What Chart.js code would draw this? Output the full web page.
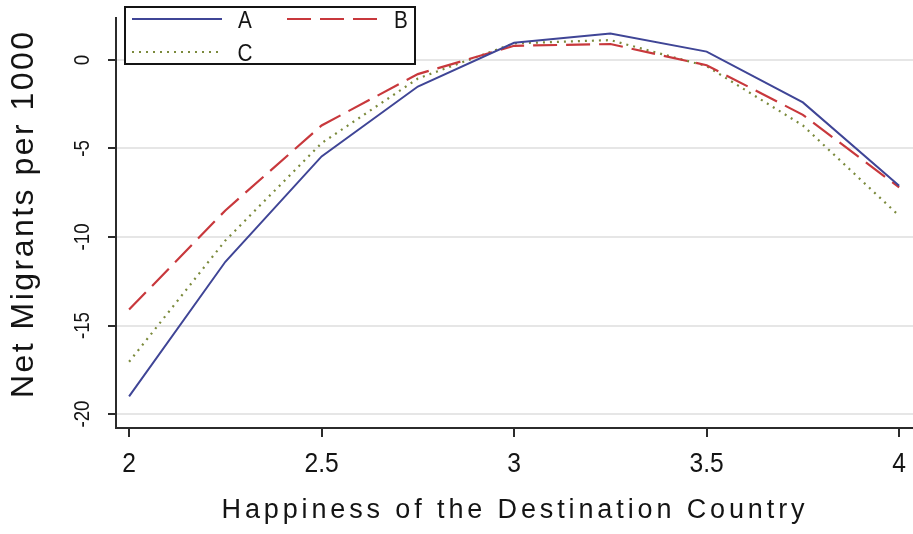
<!DOCTYPE html>
<html><head><meta charset="utf-8">
<script src="https://cdn.jsdelivr.net/npm/chart.js@4.4.0/dist/chart.umd.min.js"></script>
<style>html,body{margin:0;padding:0;background:#fff}#wrap{width:913px;height:534px;position:relative}</style>
</head><body><div id="wrap"><canvas id="c"></canvas></div>
<script>
const happiness = [2, 2.25, 2.5, 2.75, 3, 3.25, 3.5, 3.75, 4];
const seriesA = [-19.0, -11.4, -5.45, -1.5, 0.97, 1.5, 0.47, -2.4, -7.1];
const seriesB = [-14.1, -8.5, -3.7, -0.8, 0.8, 0.9, -0.3, -3.1, -7.2];
const seriesC = [-17.05, -10.2, -4.7, -1.05, 0.94, 1.12, -0.35, -3.7, -8.8];
const xTicks = [2, 2.5, 3, 3.5, 4];
const yTicks = [-20, -15, -10, -5, 0];
const seriesNames = ['A', 'B', 'C'];
const xTitle = 'Happiness of the Destination Country';
const yTitle = 'Net Migrants per 1000';

const SANS = '"Liberation Sans", Arial, sans-serif';
const AXIS = '#2b2b2b';
const INK = '#141414';

function toPts(vals) { return happiness.map((x, i) => ({ x: x, y: vals[i] })); }

// draw text centred at (cx, baseline y); optional rotation, horizontal squeeze and width fit
function drawText(ctx, text, font, sx, cx, y, rotate, target) {
  ctx.save();
  ctx.font = font;
  ctx.letterSpacing = '0px';
  const w = ctx.measureText(text).width;
  let total = w;
  if (target) {
    const sp = (target / sx - w) / (text.length - 1);
    ctx.letterSpacing = sp + 'px';
    total = w + sp * (text.length - 1);
  }
  ctx.textBaseline = 'alphabetic';
  ctx.textAlign = 'left';
  ctx.fillStyle = INK;
  if (rotate) {
    ctx.translate(y, cx);
    ctx.rotate(-Math.PI / 2);
  } else {
    ctx.translate(cx, y);
  }
  ctx.scale(sx, 1);
  ctx.fillText(text, -total / 2, 0);
  ctx.restore();
}

const textPlugin = {
  id: 'textPlugin',
  afterDraw(chart) {
    const ctx = chart.ctx;
    const ys = chart.scales.y;
    const xs = chart.scales.x;
    yTicks.forEach(v => drawText(ctx, String(v), '22px ' + SANS, 0.85, ys.getPixelForValue(v), 89, true));
    xTicks.forEach(v => drawText(ctx, String(v), '28px ' + SANS, 0.88, xs.getPixelForValue(v), 472, false));
    drawText(ctx, xTitle, '27px ' + SANS, 1, 513, 518, false, 583);
    drawText(ctx, yTitle, '32px ' + SANS, 1, 215, 33, true, 366);
    // legend
    const ds = chart.data.datasets;
    ctx.save();
    ctx.fillStyle = '#fff';
    ctx.fillRect(125, 7, 290, 57);
    ctx.strokeStyle = INK;
    ctx.lineWidth = 2;
    ctx.strokeRect(125, 7, 290, 57);
    const items = [
      { i: 0, x1: 132, x2: 222, y: 19, tx: 245, ty: 28 },
      { i: 1, x1: 287, x2: 377, y: 19, tx: 401, ty: 28 },
      { i: 2, x1: 132, x2: 222, y: 52, tx: 245, ty: 61 }
    ];
    items.forEach(it => {
      const d = ds[it.i];
      ctx.save();
      ctx.strokeStyle = d.borderColor;
      ctx.lineWidth = d.borderWidth;
      ctx.setLineDash(d.borderDash || []);
      ctx.beginPath();
      ctx.moveTo(it.x1, it.y);
      ctx.lineTo(it.x2, it.y);
      ctx.stroke();
      ctx.restore();
      drawText(ctx, d.label, '23px ' + SANS, 0.9, it.tx, it.ty, false);
    });
    ctx.restore();
  }
};

new Chart(document.getElementById('c'), {
  type: 'line',
  data: {
    datasets: [
      { label: seriesNames[0], data: toPts(seriesA), borderColor: '#3f4596', borderWidth: 2, pointRadius: 0, tension: 0, fill: false },
      { label: seriesNames[1], data: toPts(seriesB), borderColor: '#c8383c', borderWidth: 2.2, borderDash: [24, 9], pointRadius: 0, tension: 0, fill: false },
      { label: seriesNames[2], data: toPts(seriesC), borderColor: '#7b8a3c', borderWidth: 2.2, borderDash: [2, 5], pointRadius: 0, tension: 0, fill: false }
    ]
  },
  options: {
    responsive: true,
    maintainAspectRatio: false,
    animation: false,
    layout: { padding: { top: 18, right: 0, left: 0, bottom: 0 } },
    plugins: { legend: { display: false }, tooltip: { enabled: false } },
    scales: {
      x: {
        type: 'linear',
        min: 1.966, max: 4.036,
        afterBuildTicks: s => { s.ticks = xTicks.map(v => ({ value: v })); },
        afterFit: s => { s.height = 106; },
        grid: { drawOnChartArea: false, drawTicks: true, tickLength: 9, color: AXIS, lineWidth: 2 },
        border: { color: AXIS, width: 2 },
        ticks: { display: false }
      },
      y: {
        type: 'linear',
        min: -20.79, max: 2.37,
        afterBuildTicks: s => { s.ticks = yTicks.map(v => ({ value: v })); },
        afterFit: s => { s.width = 116; },
        grid: { color: '#e6e6e6', lineWidth: 2, tickColor: AXIS, tickLength: 8, drawTicks: true },
        border: { color: AXIS, width: 2 },
        ticks: { display: false }
      }
    }
  },
  plugins: [textPlugin]
});
</script></body></html>
